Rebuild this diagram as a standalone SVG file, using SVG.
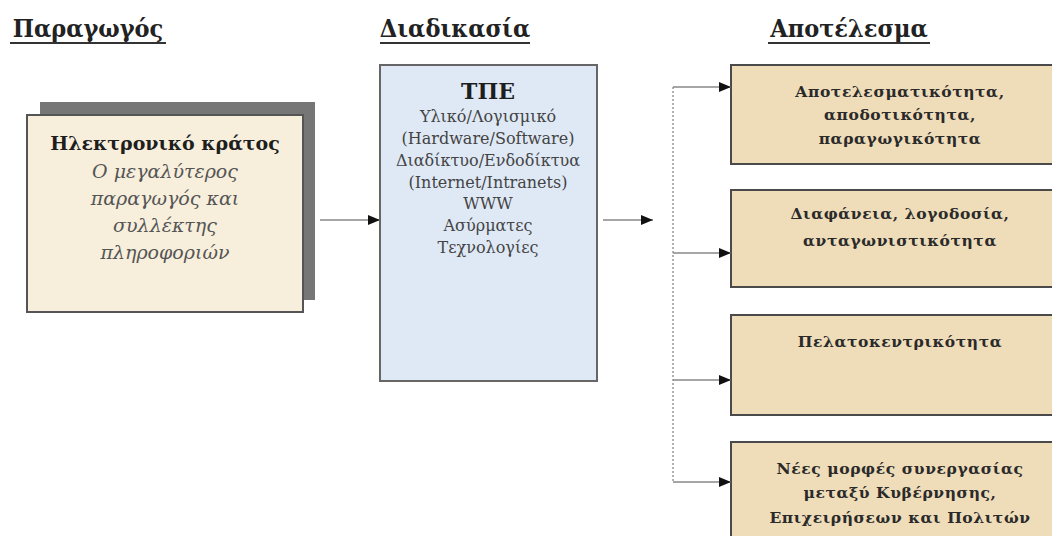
<svg xmlns="http://www.w3.org/2000/svg" width="1052" height="536" viewBox="0 0 1052 536">
<defs>
<marker id="ah" markerWidth="12" markerHeight="10" refX="12" refY="5" orient="auto" markerUnits="userSpaceOnUse">
<path d="M0,0 L12,5 L0,10 Z" fill="#111"/>
</marker>
</defs>
<style>
.hdr{font-family:"DejaVu Serif Condensed","DejaVu Serif",serif;font-weight:bold;font-size:25px;fill:#222;text-anchor:middle}
.ul{stroke:#333;stroke-width:2}
.res{fill:#efdcb9;stroke:#4a4a4a;stroke-width:2}
.rt{font-family:"DejaVu Serif",serif;font-weight:bold;font-size:15.5px;letter-spacing:0.6px;fill:#2a2a2a;text-anchor:middle}
.mt{font-family:"DejaVu Serif",serif;font-size:16px;fill:#444;text-anchor:middle}
.lt{font-family:"DejaVu Serif",serif;font-style:italic;font-size:19px;fill:#555;text-anchor:middle}
.conn{stroke:#888;stroke-width:1.5;fill:none}
</style>
<rect width="1052" height="536" fill="#fff"/>
<g id="headers">
<text class="hdr" x="88" y="37">Παραγωγός</text>
<line class="ul" x1="10" y1="43" x2="166" y2="43"/>
<text class="hdr" x="455" y="37">Διαδικασία</text>
<line class="ul" x1="380" y1="43" x2="530" y2="43"/>
<text class="hdr" x="849" y="37">Αποτέλεσμα</text>
<line class="ul" x1="768" y1="43" x2="930" y2="43"/>
</g>
<g id="producer">
<rect x="40" y="102" width="275" height="198" fill="#767676"/>
<rect x="27" y="115" width="276" height="197" fill="#f7efdc" stroke="#555" stroke-width="2"/>
<text x="165" y="150" font-family="DejaVu Serif, serif" font-weight="bold" font-size="19" fill="#1e1e1e" text-anchor="middle">Ηλεκτρονικό κράτος</text>
<text class="lt" x="165" y="178">Ο μεγαλύτερος</text>
<text class="lt" x="165" y="205">παραγωγός και</text>
<text class="lt" x="165" y="232">συλλέκτης</text>
<text class="lt" x="165" y="259">πληροφοριών</text>
</g>
<g id="process">
<rect x="380" y="65" width="217" height="316" fill="#dfe9f6" stroke="#666" stroke-width="2"/>
<text x="488" y="99" font-family="DejaVu Serif, serif" font-weight="bold" font-size="22" fill="#1e1e1e" text-anchor="middle">ΤΠΕ</text>
<text class="mt" x="488" y="122">Υλικό/Λογισμικό</text>
<text class="mt" x="488" y="144">(Hardware/Software)</text>
<text class="mt" x="488" y="166">Διαδίκτυο/Ενδοδίκτυα</text>
<text class="mt" x="488" y="188">(Internet/Intranets)</text>
<text class="mt" x="488" y="209">WWW</text>
<text class="mt" x="488" y="231">Ασύρματες</text>
<text class="mt" x="488" y="253">Τεχνολογίες</text>
</g>
<g id="result1">
<rect class="res" x="731" y="65" width="330" height="99"/>
<text class="rt" x="900" y="97">Αποτελεσματικότητα,</text>
<text class="rt" x="900" y="120">αποδοτικότητα,</text>
<text class="rt" x="900" y="144">παραγωγικότητα</text>
</g>
<g id="result2">
<rect class="res" x="731" y="190" width="330" height="97"/>
<text class="rt" x="900" y="219">Διαφάνεια, λογοδοσία,</text>
<text class="rt" x="900" y="246">ανταγωνιστικότητα</text>
</g>
<g id="result3">
<rect class="res" x="731" y="315" width="330" height="100"/>
<text class="rt" x="900" y="347">Πελατοκεντρικότητα</text>
</g>
<g id="result4">
<rect class="res" x="731" y="442" width="330" height="110"/>
<text class="rt" x="900" y="474">Νέες μορφές συνεργασίας</text>
<text class="rt" x="900" y="498">μεταξύ Κυβέρνησης,</text>
<text class="rt" x="900" y="523">Επιχειρήσεων και Πολιτών</text>
</g>
<g id="connectors">
<line class="conn" x1="320" y1="220" x2="380" y2="220" marker-end="url(#ah)"/>
<line class="conn" x1="603" y1="220" x2="653" y2="220" marker-end="url(#ah)"/>
<line x1="673" y1="87" x2="673" y2="482" stroke="#999" stroke-width="1.5" stroke-dasharray="2,2"/>
<line class="conn" x1="673" y1="87" x2="731" y2="87" marker-end="url(#ah)"/>
<line class="conn" x1="673" y1="253" x2="731" y2="253" marker-end="url(#ah)"/>
<line class="conn" x1="673" y1="380" x2="731" y2="380" marker-end="url(#ah)"/>
<line class="conn" x1="673" y1="482" x2="731" y2="482" marker-end="url(#ah)"/>
</g>
</svg>
